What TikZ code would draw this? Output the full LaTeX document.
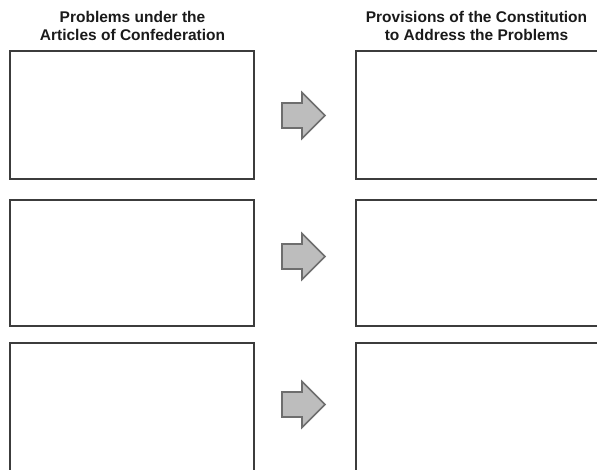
\documentclass[tikz,border=0pt]{standalone}
\usepackage{fontspec}
\setmainfont{Liberation Sans}
\begin{document}
\begin{tikzpicture}[x=1pt,y=-1pt,
  box/.style={draw=boxgray,line width=2pt},
  blockarrow/.style={draw=arrowline,fill=arrowfill,line width=1.6pt,line join=miter},
  title/.style={inner sep=0pt,anchor=north,align=center,text=titlecol,
    font=\bfseries\fontsize{15.5}{17.5}\selectfont}]
\definecolor{boxgray}{HTML}{3C3C3C}
\definecolor{arrowline}{HTML}{6E6E6E}
\definecolor{arrowfill}{HTML}{BDBDBD}
\definecolor{titlecol}{HTML}{1A1A1A}
\useasboundingbox (0,0) rectangle (597,470);
\clip (0,0) rectangle (597,470);
\node[title] (t1) at (132.5,11.5) {Problems under the\\Articles of Confederation};
\node[title] (t2) at (476.5,11.5) {Provisions of the Constitution\\to Address the Problems};
% boxes
\draw[box] (10,51) rectangle (254,179);
\draw[box] (356,51) rectangle (610,179);
\draw[box] (10,200) rectangle (254,326);
\draw[box] (356,200) rectangle (610,326);
\draw[box] (10,343) rectangle (254,490);
\draw[box] (356,343) rectangle (610,490);
% arrows
\foreach \c in {115.5,256.5,404.5}{
  \draw[blockarrow] (282,\c-12.5) -- (302,\c-12.5) -- (302,\c-23) -- (325,\c)
    -- (302,\c+23) -- (302,\c+12.5) -- (282,\c+12.5) -- cycle;
}
\end{tikzpicture}
\end{document}
